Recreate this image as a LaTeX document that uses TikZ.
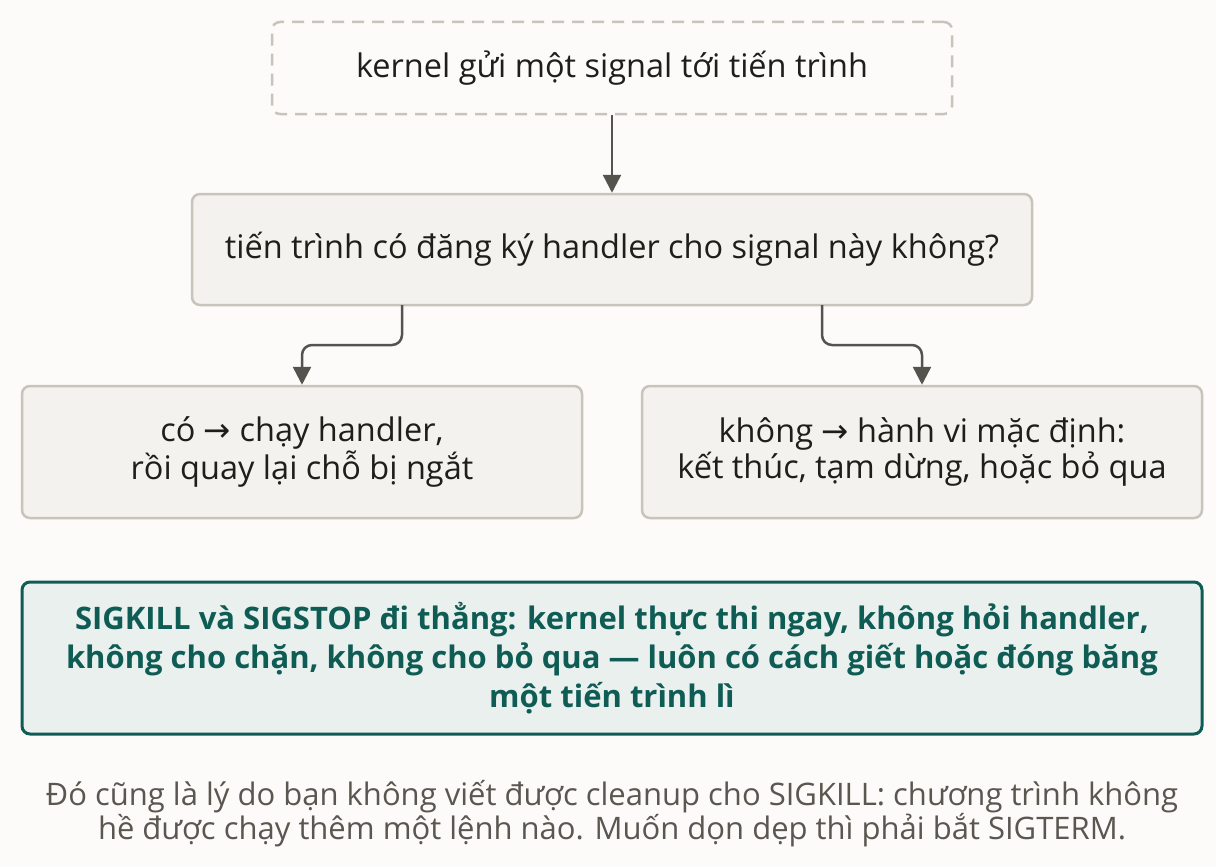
\documentclass[tikz,border=0pt]{standalone}
\usepackage{fontspec}
\setmainfont{Open Sans}
\newfontfamily\symfont{DejaVu Sans}
\usetikzlibrary{arrows.meta}
\definecolor{bg}{HTML}{FCFBF9}
\definecolor{boxfill}{HTML}{F3F2EE}
\definecolor{boxline}{HTML}{C8C4BB}
\definecolor{ink}{HTML}{1F1E1B}
\definecolor{arrowc}{HTML}{55534D}
\definecolor{greenline}{HTML}{0F5C55}
\definecolor{greenfill}{HTML}{E9F0EE}
\definecolor{note}{HTML}{5A5650}
\tikzset{
  base/.style={rounded corners=8pt, line width=2.5pt, align=center, text=ink,
    font=\fontsize{32.5}{36}\selectfont, inner sep=0pt},
  dashbox/.style={base, draw=boxline, dash pattern=on 12pt off 8pt, fill=bg},
  plainbox/.style={base, draw=boxline, fill=boxfill},
  keybox/.style={base, draw=greenline, line width=3pt, fill=greenfill, text=greenline,
    font=\fontsize{31}{39}\selectfont\bfseries},
  notetext/.style={align=center, text=note, font=\fontsize{31}{34}\selectfont, inner sep=0pt},
  conn/.style={draw=arrowc, line width=2.5pt, rounded corners=10pt,
    -{Triangle[width=18pt,length=18pt]}},
}
\begin{document}
\begin{tikzpicture}[x=1pt,y=-1pt]
\fill[bg] (0,0) rectangle (1216,867);
\useasboundingbox (0,0) rectangle (1216,867);
\node[dashbox, minimum width=680pt, minimum height=92pt] (send) at (612,68) {kernel gửi một signal tới tiến trình};
\node[plainbox, minimum width=840pt, minimum height=111pt] (ask) at (612,249.5) {tiến trình có đăng ký handler cho signal này không?};
\node[plainbox, minimum width=560pt, minimum height=132pt] (yes) at (302,452) {có {\symfont →} chạy handler,\\rồi quay lại chỗ bị ngắt};
\node[plainbox, minimum width=560pt, minimum height=132pt] (no) at (922,452) {không {\symfont →} hành vi mặc định:\\kết thúc, tạm dừng, hoặc bỏ qua};
\node[keybox, minimum width=1180pt, minimum height=152pt] (key) at (612,658) {SIGKILL và SIGSTOP đi thẳng: kernel thực thi ngay, không hỏi handler,\\không cho chặn, không cho bỏ qua — luôn có cách giết hoặc đóng băng\\một tiến trình lì};
\node[notetext] (foot) at (612,814) {Đó cũng là lý do bạn không viết được cleanup cho SIGKILL: chương trình không\\hề được chạy thêm một lệnh nào. Muốn dọn dẹp thì phải bắt SIGTERM.};
\draw[conn] (send.south) -- (ask.north);
\coordinate (la) at (402,305);
\coordinate (ra) at (822,305);
\draw[conn] (la) -- (402,345) -- (302,345) -- (yes.north);
\draw[conn] (ra) -- (822,345) -- (922,345) -- (no.north);
\end{tikzpicture}
\end{document}
